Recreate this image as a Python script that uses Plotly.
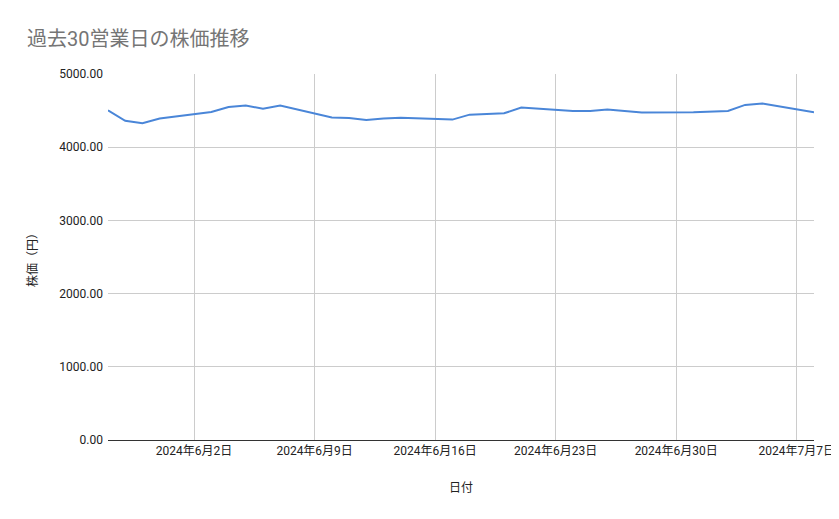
import plotly.graph_objects as go

# 過去30営業日の日付と終値
dates = [
    "2024-05-28", "2024-05-29", "2024-05-30", "2024-05-31",
    "2024-06-03", "2024-06-04", "2024-06-05", "2024-06-06", "2024-06-07",
    "2024-06-10", "2024-06-11", "2024-06-12", "2024-06-13", "2024-06-14",
    "2024-06-17", "2024-06-18", "2024-06-19", "2024-06-20", "2024-06-21",
    "2024-06-24", "2024-06-25", "2024-06-26", "2024-06-27", "2024-06-28",
    "2024-07-01", "2024-07-02", "2024-07-03", "2024-07-04", "2024-07-05",
    "2024-07-08",
]
prices = [
    4505, 4360, 4327, 4391,
    4480, 4548, 4568, 4527, 4568,
    4405, 4398, 4373, 4391, 4401,
    4377, 4445, 4455, 4463, 4541,
    4493, 4496, 4514, 4496, 4473,
    4477, 4486, 4496, 4578, 4596,
    4477,
]

tick_dates = ["2024-06-02", "2024-06-09", "2024-06-16", "2024-06-23", "2024-06-30", "2024-07-07"]
tick_labels = ["2024年6月2日", "2024年6月9日", "2024年6月16日", "2024年6月23日", "2024年6月30日", "2024年7月7日"]
y_ticks = [0, 1000, 2000, 3000, 4000, 5000]

font_family = "Roboto, 'Noto Sans CJK JP', sans-serif"

fig = go.Figure()
fig.add_trace(go.Scatter(
    x=dates, y=prices, mode="lines",
    line=dict(color="#4a86d8", width=2),
    hoverinfo="x+y",
))

# ページ本文の余白(8px)を差し引いた大きさ
fig.update_layout(
    width=831, height=511,
    margin=dict(l=100, r=25, t=66, b=79),
    paper_bgcolor="white", plot_bgcolor="white",
    showlegend=False,
    font=dict(family=font_family, size=12, color="#222"),
    title=dict(
        text="過去30営業日の株価推移",
        x=19 / 831, xanchor="left", y=1 - 31 / 511, yanchor="middle",
        font=dict(family=font_family, size=20, color="#757575"),
    ),
    xaxis=dict(
        range=["2024-05-28", "2024-07-08"],
        tickvals=tick_dates, ticktext=tick_labels,
        showgrid=True, gridcolor="#cccccc", gridwidth=1,
        showline=True, linecolor="#333", linewidth=1,
        ticks="", tickfont=dict(size=12, color="#222"),
        title=dict(text="日付", font=dict(size=12, color="#222"), standoff=26),
        zeroline=False, automargin=False,
    ),
    yaxis=dict(
        range=[0, 5000],
        tickvals=y_ticks, tickformat=".2f",
        showgrid=True, gridcolor="#cccccc", gridwidth=1,
        zeroline=False, showline=False,
        ticks="", ticklen=0, ticklabelstandoff=4,
        tickfont=dict(size=12, color="#222"),
        title=dict(text="株価（円）", font=dict(size=12, color="#222"), standoff=19),
        automargin=False,
    ),
)

fig.write_html("out.html")
